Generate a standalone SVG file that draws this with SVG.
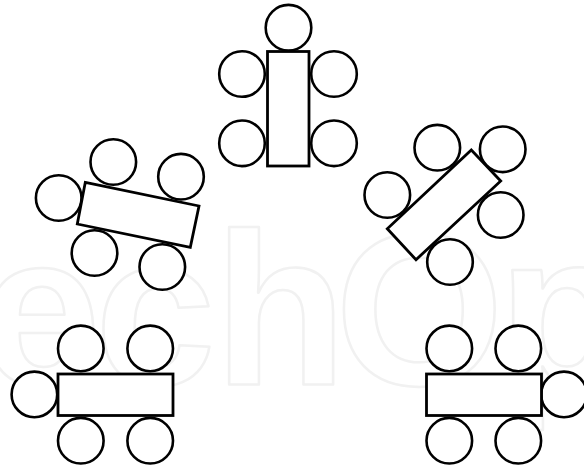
<svg xmlns="http://www.w3.org/2000/svg" width="584" height="467" viewBox="0 0 584 467">
<style>
.t{fill:#fff;stroke:#000;stroke-width:2.6}
.r{fill:#fff;stroke:#000;stroke-width:2.8}
.w{font-family:"Liberation Sans",sans-serif;font-weight:700;font-size:217px;fill:#fff;stroke:#f1f1f1;stroke-width:2.5;stroke-linejoin:round}
</style>
<rect width="584" height="467" fill="#fff"/>
<g id="watermark"><text class="w" x="-20" y="385">e</text><text class="w" x="95" y="385">c</text><text class="w" x="214" y="385">h</text><text class="w" x="335" y="385">O</text><text class="w" x="498" y="385">p</text></g>
<g id="connectors"></g>
<g id="table-top"><circle class="t" cx="288.500" cy="27.700" r="22.800"/><circle class="t" cx="242" cy="74" r="22.800"/><circle class="t" cx="334" cy="74" r="22.800"/><circle class="t" cx="242" cy="143.300" r="22.800"/><circle class="t" cx="334" cy="143.300" r="22.800"/><rect class="r" x="267.500" y="51.500" width="41.500" height="114.500"/></g>
<g id="table-left"><circle class="t" cx="113.300" cy="162" r="22.800"/><circle class="t" cx="181" cy="176.700" r="22.800"/><circle class="t" cx="58.700" cy="198" r="22.800"/><circle class="t" cx="94.500" cy="253" r="22.800"/><circle class="t" cx="162.300" cy="267" r="22.800"/><polygon class="r" points="85.300,182.300 199,206 190.300,247.300 77.300,224"/></g>
<g id="table-right"><circle class="t" cx="437.300" cy="147.700" r="22.800"/><circle class="t" cx="502.700" cy="149.300" r="22.800"/><circle class="t" cx="387.300" cy="195" r="22.800"/><circle class="t" cx="500.700" cy="215" r="22.800"/><circle class="t" cx="450" cy="262" r="22.800"/><polygon class="r" points="471.300,150 500.700,181 416,259.700 387.300,228.700"/></g>
<g id="table-bottom-left"><circle class="t" cx="80.800" cy="348.400" r="22.800"/><circle class="t" cx="150.200" cy="348.400" r="22.800"/><circle class="t" cx="34.400" cy="394.400" r="22.800"/><circle class="t" cx="80.800" cy="440.700" r="22.800"/><circle class="t" cx="150.200" cy="440.700" r="22.800"/><rect class="r" x="58" y="374" width="115" height="41.500"/></g>
<g id="table-bottom-right"><circle class="t" cx="449.300" cy="348.400" r="22.800"/><circle class="t" cx="518.300" cy="348.400" r="22.800"/><circle class="t" cx="564" cy="394.400" r="22.800"/><circle class="t" cx="449.300" cy="440.700" r="22.800"/><circle class="t" cx="518.300" cy="440.700" r="22.800"/><rect class="r" x="426.500" y="374" width="115" height="41.500"/></g>
</svg>
